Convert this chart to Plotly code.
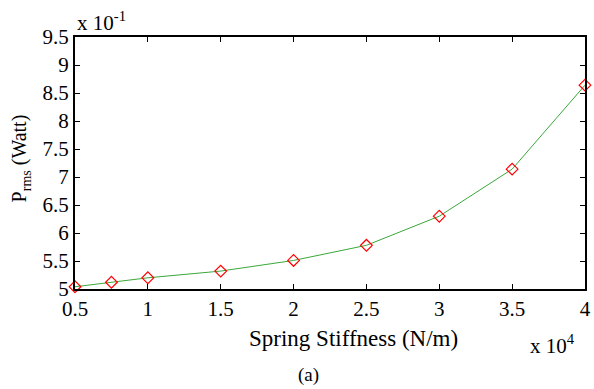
import plotly.graph_objects as go

stiffness = [0.5, 0.75, 1.0, 1.5, 2.0, 2.5, 3.0, 3.5, 4.0]  # x 10^4 N/m
prms = [5.04, 5.12, 5.20, 5.32, 5.51, 5.78, 6.30, 7.14, 8.64]  # x 10^-1 W
xticks = [0.5, 1, 1.5, 2, 2.5, 3, 3.5, 4]
yticks = [5, 5.5, 6, 6.5, 7, 7.5, 8, 8.5, 9, 9.5]

font = "Liberation Serif, Times New Roman, serif"

fig = go.Figure()
fig.add_trace(go.Scatter(
    x=stiffness, y=prms, mode="lines+markers",
    line=dict(color="#3aa83a", width=1),
    marker=dict(symbol="diamond-open", size=9, color="red", line=dict(width=1.2, color="red")),
    showlegend=False, cliponaxis=False,
))

axis_common = dict(
    showline=True, linecolor="black", linewidth=2, mirror="ticks",
    ticks="inside", ticklen=5, tickcolor="black", tickwidth=1,
    showgrid=False, zeroline=False, ticklabeloverflow="allow",
    tickfont=dict(family=font, size=21, color="black"),
)
fig.update_xaxes(range=[0.5, 4.0], tickvals=xticks,
                 ticktext=[f"{v:g}" for v in xticks], **axis_common)
fig.update_yaxes(range=[5, 9.5], tickvals=yticks,
                 ticktext=[f"{v:g}" for v in yticks], **axis_common)

fig.update_layout(
    width=594, height=389,
    margin=dict(l=75, r=3, t=37, b=100),
    plot_bgcolor="white", paper_bgcolor="white",
    font=dict(family=font, size=21, color="black"),
    annotations=[
        dict(text="x 10<sup>-1</sup>", xref="paper", yref="paper", x=0.0, y=1.0,
             xanchor="left", yanchor="bottom", showarrow=False, font=dict(size=21)),
        dict(text="x 10<sup>4</sup>", xref="paper", yref="paper", x=0.985, y=-0.16,
             xanchor="right", yanchor="top", showarrow=False, font=dict(size=21)),
        dict(text="Spring Stiffness (N/m)", xref="paper", yref="paper", x=0.547, y=-0.14,
             xanchor="center", yanchor="top", showarrow=False, font=dict(size=23)),
        dict(text="(a)", xref="paper", yref="paper", x=0.458, y=-0.29,
             xanchor="center", yanchor="top", showarrow=False, font=dict(size=19)),
        dict(text="P<sub>rms</sub> (Watt)", xref="paper", yref="paper", x=-0.105, y=0.52,
             xanchor="center", yanchor="middle", textangle=-90, showarrow=False,
             font=dict(size=20)),
    ],
)

fig.write_html("out.html")
